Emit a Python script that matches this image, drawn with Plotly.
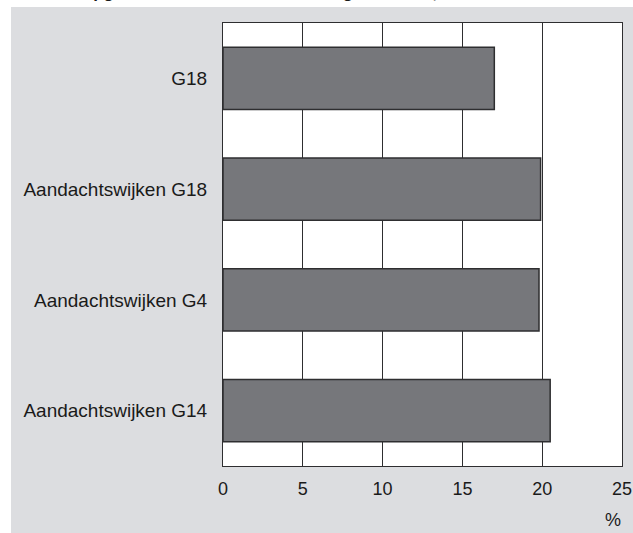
import plotly.graph_objects as go

categories = ["G18", "Aandachtswijken G18", "Aandachtswijken G4", "Aandachtswijken G14"]
values = [17.0, 19.9, 19.8, 20.5]
x_ticks = [0, 5, 10, 15, 20, 25]
title_text = "Aandeel opgeleide werkzoekenden in de gemeenten, %"

W, H = 633, 533
L, R, T, B = 223, 11, 23, 67
pw, ph = W - L - R, H - T - B

def px_x(p):
    return (p - L) / pw

def px_y(p):
    return 1 - (p - T) / ph

fig = go.Figure()
fig.add_trace(go.Bar(
    y=categories, x=values, orientation="h",
    marker=dict(color="#76777b", line=dict(color="#2e2e30", width=1.5)),
    width=0.56,
))

cat_font = dict(family="Liberation Sans, Arial, sans-serif", size=19, color="#1a1a1a")
tick_font = dict(family="Liberation Sans, Arial, sans-serif", size=18, color="#1a1a1a")

fig.update_layout(
    width=W, height=H, autosize=False,
    margin=dict(l=L, r=R, t=T, b=B, pad=0, autoexpand=False),
    paper_bgcolor="#dcdde0",
    plot_bgcolor="white",
    showlegend=False,
    font=tick_font,
    xaxis=dict(range=[0, 25], tickvals=x_ticks, showgrid=True, gridcolor="#2e2e30", gridwidth=1,
               showline=True, linecolor="#2e2e30", linewidth=1, mirror=True, zeroline=False,
               ticks="", ticklabelstandoff=6, tickfont=tick_font, fixedrange=True,
               automargin=False),
    yaxis=dict(categoryorder="array", categoryarray=categories, autorange="reversed",
               showgrid=False, showline=True, linecolor="#2e2e30", linewidth=1, mirror=True,
               ticks="", ticklabelstandoff=11, tickfont=cat_font, fixedrange=True,
               automargin=False),
    shapes=[
        dict(type="rect", xref="paper", yref="paper", x0=px_x(-5), x1=px_x(W + 5), y0=px_y(-5), y1=px_y(7),
             fillcolor="white", line=dict(width=0), layer="below"),
        dict(type="rect", xref="paper", yref="paper", x0=px_x(-5), x1=px_x(11), y0=px_y(-5), y1=px_y(H + 5),
             fillcolor="white", line=dict(width=0), layer="below"),
    ],
    annotations=[
        dict(text="%", xref="paper", yref="paper", x=px_x(613), y=px_y(520),
             xanchor="center", yanchor="middle", showarrow=False, font=tick_font),
        dict(text="<b>" + title_text + "</b>", xref="paper", yref="paper", x=px_x(11), y=px_y(3),
             xanchor="left", yanchor="bottom", showarrow=False, borderpad=0,
             font=dict(family="Liberation Sans, Arial, sans-serif", size=17, color="#1a1a1a")),
    ],
)

fig.write_html(
    "out.html",
    config={"displayModeBar": False, "staticPlot": True},
    post_script=("document.body.style.margin='0';document.body.style.overflow='hidden';"
                 "document.documentElement.style.overflow='hidden';"),
)
